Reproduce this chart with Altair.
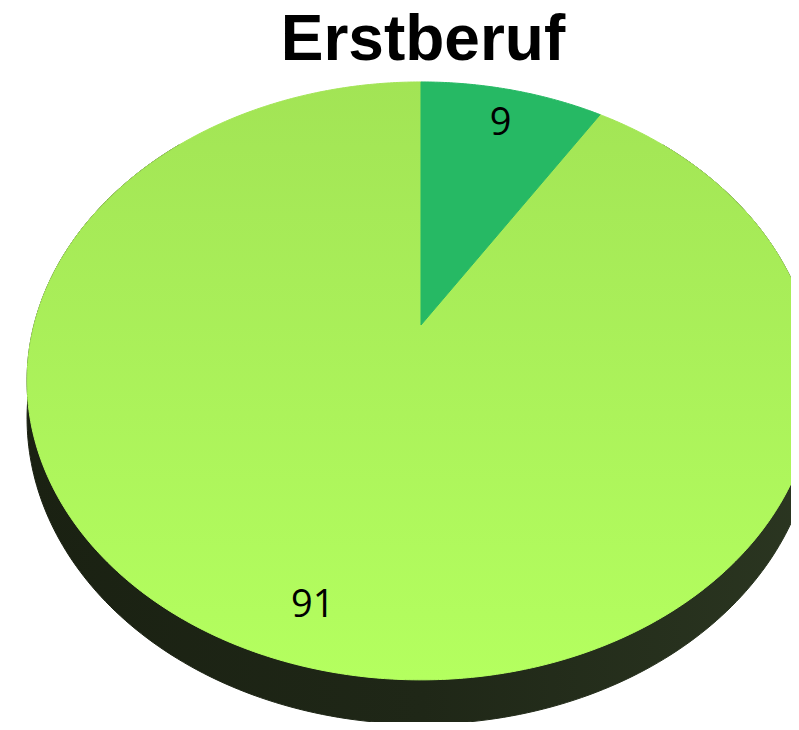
import altair as alt
import numpy as np
import pandas as pd

# ---------------- data ----------------
chart_title = "Erstberuf"
labels = ["9", "91"]
values = [9, 91]
slice_colors = ["#26B964", "#A8EE5A"]
top_gradient = ["#A2E455", "#B4FF5F"]      # big slice: top -> bottom
side_gradient = ["#1A2112", "#1F2717", "#2B3621"]  # side: left -> right

# ---------------- layout of the perspective disk (pixels) ----------------
CX, CY = 421.0, 325.0      # pie apex on screen
RY, RX, PERSP = 288.5, 387.0, 0.187
DEPTH = 36.0
LABEL_R = 0.85


def proj(phi_deg, k=1.0):
    p = np.radians(phi_deg)
    u, v = np.sin(p) * k, np.cos(p) * k
    s = 1 + PERSP * v
    return CX + RX * u / s, CY - RY * v / s, v


# slices
total = float(sum(values))
slice_rows = []
label_rows = []
start = 0.0
for i, (lab, val) in enumerate(zip(labels, values)):
    a0 = start / total * 360.0
    a1 = (start + val) / total * 360.0
    o = 0
    slice_rows.append(dict(s=i, o=o, x=CX, y=CY)); o += 1
    for a in np.linspace(a0, a1, max(int(a1 - a0) * 2, 4)):
        x, y, _ = proj(a)
        slice_rows.append(dict(s=i, o=o, x=x, y=y)); o += 1
    slice_rows.append(dict(s=i, o=o, x=CX, y=CY))
    lx, ly, _ = proj((a0 + a1) / 2, LABEL_R)
    label_rows.append(dict(label=lab, x=lx, y=ly))
    start += val
slices = pd.DataFrame(slice_rows)
labels_df = pd.DataFrame(label_rows)

# side of the cylinder
side_rows = []
angles = np.linspace(45, 315, 271)
o = 0
for a in angles:
    x, y, _ = proj(a)
    side_rows.append(dict(o=o, x=x, y=y)); o += 1
for a in angles[::-1]:
    x, y, v = proj(a)
    side_rows.append(dict(o=o, x=x, y=y + DEPTH / (1 + PERSP * v))); o += 1
side = pd.DataFrame(side_rows)

# ---------------- chart ----------------
W, H = 783, 714
xs = alt.Scale(domain=[8, 8 + W], zero=False, nice=False)
ys = alt.Scale(domain=[8, 8 + H], zero=False, nice=False, reverse=True)
X = alt.X("x:Q", scale=xs, axis=None)
Y = alt.Y("y:Q", scale=ys, axis=None)


def lin(colors, horizontal=False):
    n = len(colors)
    stops = [alt.GradientStop(color=c, offset=j / (n - 1)) for j, c in enumerate(colors)]
    if horizontal:
        return alt.LinearGradient(gradient="linear", stops=stops, x1=0, y1=0, x2=1, y2=0)
    return alt.LinearGradient(gradient="linear", stops=stops, x1=0, y1=0, x2=0, y2=1)


side_layer = alt.Chart(side).mark_line(
    fill=lin(side_gradient, True), stroke=lin(side_gradient, True), strokeWidth=1, clip=True
).encode(x=X, y=Y, order=alt.Order("o:Q"))

big_layer = alt.Chart(slices[slices.s == 1]).mark_line(
    fill=lin(top_gradient), stroke=lin(top_gradient), strokeWidth=1, clip=True
).encode(x=X, y=Y, order=alt.Order("o:Q"))

small_layer = alt.Chart(slices[slices.s == 0]).mark_line(
    fill=slice_colors[0], stroke=slice_colors[0], strokeWidth=1, clip=True
).encode(x=X, y=Y, order=alt.Order("o:Q"))

label_layer = alt.Chart(labels_df).mark_text(
    font="Open Sans", fontSize=38, color="#000000", baseline="alphabetic", dy=14
).encode(x=X, y=Y, text="label:N")

title_layer = alt.Chart(pd.DataFrame({"t": [chart_title]})).mark_text(
    font="Liberation Sans", fontWeight="bold", fontSize=64, color="#000000", baseline="alphabetic"
).encode(x=alt.value(423 - 8), y=alt.value(60 - 8), text="t:N")

chart = alt.layer(side_layer, big_layer, small_layer, label_layer, title_layer).properties(
    width=W, height=H, padding=0, autosize=alt.AutoSizeParams(type="none"), background="white"
).configure_view(strokeWidth=0)

chart.save("out.html", embed_options={"renderer": "svg", "actions": False})
